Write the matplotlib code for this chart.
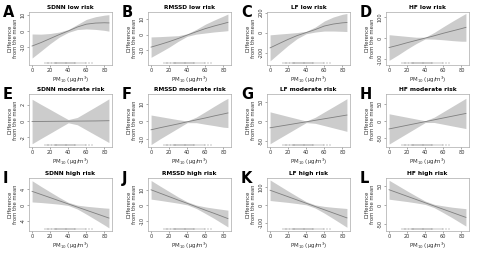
import numpy as np
import matplotlib
matplotlib.use('Agg')
import matplotlib.pyplot as plt

# PM10 grid (ug/m3)
x = [0, 10, 20, 30, 40, 50, 60, 70, 80, 85]

# observed PM10 values (rug)
rug = [14, 16, 18, 19, 21, 22, 24, 25, 26, 27, 28, 29, 30, 31, 32, 33, 34,
       35, 36, 37, 38, 39, 40, 41, 42, 43, 44, 45, 46, 47, 48, 50, 52, 54,
       56, 58, 60, 63, 66]

letters = ['A', 'B', 'C', 'D', 'E', 'F', 'G', 'H', 'I', 'J', 'K', 'L']
titles = ['SDNN low risk', 'RMSSD low risk', 'LF low risk', 'HF low risk',
          'SDNN moderate risk', 'RMSSD moderate risk', 'LF moderate risk', 'HF moderate risk',
          'SDNN high risk', 'RMSSD high risk', 'LF high risk', 'HF high risk']

# fitted difference from the mean and half width of the 95% band
mean_A = [-9.5, -7.3, -4.8, -2.3, 0, 2.5, 4.3, 5.0, 5.2, 5.1]
hw_A = [7.6, 5.3, 3.2, 1.6, 0.9, 1.6, 3.0, 4.0, 4.8, 5.2]
mean_B = [-8, -6.3, -4.5, -2.5, -0.3, 1.8, 3.8, 5.5, 7.0, 7.8]
hw_B = [6.5, 5.0, 3.5, 1.8, 0.8, 1.5, 2.8, 3.8, 4.8, 5.3]
mean_C = [-153, -110, -68, -30, 0, 30, 65, 85, 97, 100]
hw_C = [130, 95, 60, 30, 12, 25, 50, 70, 85, 90]
mean_D = [-44, -33, -21, -10, 1, 12, 24, 35, 46, 52]
hw_D = [61, 46, 30, 15, 4, 16, 31, 46, 60, 66]
mean_E = [-0.05, -0.04, -0.03, -0.02, -0.01, 0, 0.01, 0.02, 0.04, 0.05]
hw_E = [2.75, 2.1, 1.47, 0.83, 0.2, 0.45, 1.09, 1.73, 2.37, 2.7]
mean_F = [-4.8, -3.6, -2.5, -1.4, -0.2, 0.9, 2.0, 3.2, 4.3, 4.9]
hw_F = [8.5, 6.4, 4.4, 2.4, 0.5, 1.6, 3.6, 5.6, 7.6, 8.4]
mean_G = [-15.8, -12.0, -8.3, -4.5, -0.8, 3.0, 6.8, 10.5, 14.3, 16.2]
hw_G = [40, 30.4, 20.9, 11.4, 2, 7.6, 17.1, 26.6, 36.1, 41]
mean_H = [-22.5, -17.2, -11.9, -6.6, -1.3, 4.0, 9.3, 14.6, 19.9, 22.5]
hw_H = [44, 33.6, 23.3, 12.9, 2.6, 7.8, 18.1, 28.5, 38.8, 44]
mean_I = [3.5, 2.7, 1.9, 1.1, 0.3, -0.5, -1.3, -2.1, -2.9, -3.3]
hw_I = [2.7, 2.05, 1.45, 0.87, 0.4, 0.5, 1.0, 1.58, 2.17, 2.5]
mean_J = [9.8, 7.6, 5.4, 3.2, 1.1, -1.1, -3.3, -5.4, -7.6, -8.7]
hw_J = [6, 4.6, 3.3, 2.0, 1.0, 1.1, 2.1, 3.3, 4.7, 5.4]
mean_K = [83, 64.6, 46.3, 27.9, 9.6, -8.8, -27.1, -45.5, -63.8, -73]
hw_K = [58, 45, 32, 20, 9, 9, 19, 32, 46, 53]
mean_L = [40, 31.4, 22.8, 14.2, 5.6, -3, -11.6, -20.2, -28.8, -33]
hw_L = [25, 19.5, 14, 9, 4.5, 4.5, 9, 14, 20, 23]

means = [mean_A, mean_B, mean_C, mean_D, mean_E, mean_F,
         mean_G, mean_H, mean_I, mean_J, mean_K, mean_L]
hws = [hw_A, hw_B, hw_C, hw_D, hw_E, hw_F, hw_G, hw_H, hw_I, hw_J, hw_K, hw_L]

yticks = [[-10, 0, 10], [-10, 0, 10], [-200, 0, 200], [-100, 0, 100],
          [-2, 0, 2], [-10, 0, 10], [-50, 0, 50], [-50, 0, 50],
          [-4, 0, 4], [-10, 0, 10], [-100, 0, 100], [-50, 0, 50]]
ylims = [(-21.5, 12), (-19.4, 14.4), (-324, 205), (-127, 125),
         (-3.2, 3.35), (-14.7, 15.8), (-64, 69), (-75, 79),
         (-6.6, 6.9), (-16.7, 17.4), (-147, 152), (-69, 71)]

W, H = 479, 254
fig = plt.figure(figsize=(W / 100, H / 100), dpi=100)

col_left = [29, 148, 267, 386]
row_top = [12, 94, 178]
aw, ah = 83, 53

for i in range(12):
    r, c = divmod(i, 4)
    l, t = col_left[c], row_top[r]
    ax = fig.add_axes([l / W, 1 - (t + ah) / H, aw / W, ah / H])
    m = np.array(means[i])
    hw = np.array(hws[i])
    ax.fill_between(x, m - hw, m + hw, color='#cccccc', lw=0)
    ax.plot(x, m, color='#7f7f7f', lw=0.6)
    ax.plot(rug, [0.03] * len(rug), '|', color='#888888', ms=2.0, mew=0.35,
            transform=ax.get_xaxis_transform())
    ax.set_xlim(-3.4, 88.4)
    ax.set_ylim(*ylims[i])
    ax.set_xticks([0, 20, 40, 60, 80])
    ax.set_yticks(yticks[i])
    ax.set_yticklabels([str(v) for v in yticks[i]], rotation=90, va='center')
    ax.tick_params(labelsize=3.6, length=1.5, width=0.4, pad=1,
                   colors='#666666', labelcolor='#333333')
    for s in ax.spines.values():
        s.set_color('#aaaaaa')
        s.set_linewidth(0.5)
    ax.set_title(titles[i], fontsize=4.2, fontweight='bold', pad=2.5)
    ax.set_xlabel('PM$_{10}$ (\u03bcg/m$^3$)', fontsize=4, labelpad=0.8, color='#333333')
    ax.set_ylabel('Difference\nfrom the mean', fontsize=3.8, labelpad=2,
                  color='#333333', linespacing=1.0)
    fig.text((l - 26) / W, 1 - (t + 5) / H, letters[i], fontsize=10.5,
             fontweight='bold', ha='left', va='baseline')

fig.savefig('out.png', dpi=100)
